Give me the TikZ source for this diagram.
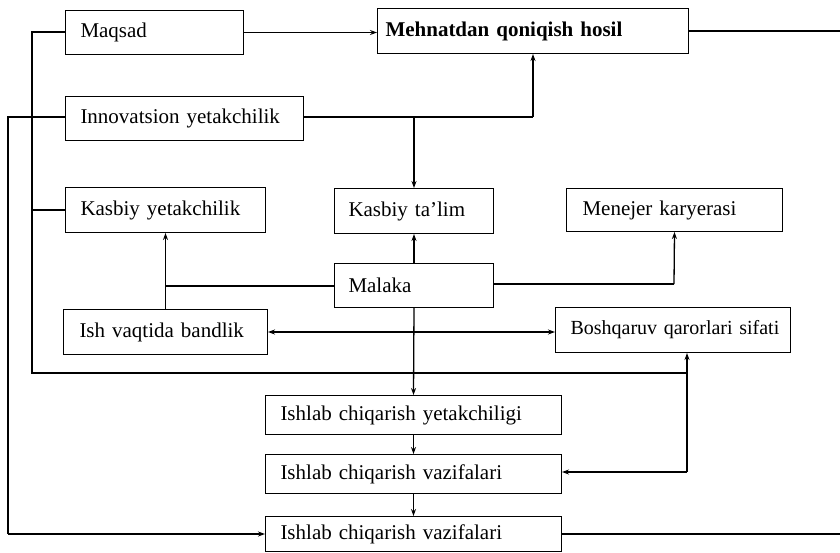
\documentclass[tikz,border=0pt]{standalone}
\usepackage{fontspec}
\setmainfont{Liberation Serif}
\usetikzlibrary{arrows.meta}
\begin{document}
\begin{tikzpicture}[x=1pt,y=1pt,
  box/.style={draw, line width=1pt, anchor=north west, inner xsep=0pt, inner ysep=0pt, align=left, font=\fontsize{21}{25}\selectfont},
  conn/.style={line width=1.3pt},
  arr/.style={line width=1.3pt, -{Stealth[length=7pt,width=5pt]}},
  darr/.style={line width=1.3pt, {Stealth[length=7pt,width=5pt]}-{Stealth[length=7pt,width=5pt]}}]
\useasboundingbox (0,0) rectangle (840,-552);
\node[box, text width=178pt, minimum height=44pt] (maq) at (65,-10) {\hspace*{15pt}Maqsad};
\node[box, text width=311pt, minimum height=45pt, font=\fontsize{21}{25}\selectfont\bfseries] (meh) at (377,-8) {\hspace*{8pt}Mehnatdan qoniqish hosil};
\node[box, text width=238pt, minimum height=44pt] (inn) at (65,-96) {\hspace*{15pt}Innovatsion yetakchilik};
\node[box, text width=200pt, minimum height=45pt] (ky) at (65,-187) {\hspace*{15pt}Kasbiy yetakchilik};
\node[box, text width=159pt, minimum height=45pt] (kt) at (334,-188) {\hspace*{14pt}Kasbiy ta'lim};
\node[box, text width=216pt, minimum height=43pt] (mk) at (566,-188) {\hspace*{16pt}Menejer karyerasi};
\node[box, text width=159pt, minimum height=44pt] (mal) at (334,-263) {\hspace*{14pt}Malaka};
\node[box, text width=204pt, minimum height=45pt] (ish) at (63,-309) {\hspace*{16pt}Ish vaqtida bandlik};
\node[box, text width=235pt, minimum height=45pt, font=\fontsize{20}{24}\selectfont] (bq) at (555,-307) {\hspace*{15pt}\mbox{Boshqaruv qarorlari sifati}};
\node[box, text width=296pt, minimum height=39pt] (iy) at (265,-395) {\hspace*{15pt}Ishlab chiqarish yetakchiligi};
\node[box, text width=296pt, minimum height=39pt] (v1) at (265,-454) {\hspace*{15pt}Ishlab chiqarish vazifalari};
\node[box, text width=296pt, minimum height=35pt] (v2) at (265,-516) {\hspace*{15pt}Ishlab chiqarish vazifalari};
\coordinate (mehout) at (840,-31);
\coordinate (v2out) at (840,-534);
\coordinate (ia) at (533,-117);
\coordinate (lx) at (32,-32);
\coordinate (lb) at (32,-373);
\coordinate (rb) at (687,-373);
\coordinate (rv) at (687,-472);
\coordinate (ox) at (8,-117);
\coordinate (ob) at (8,-534);
\coordinate (mkl) at (165,-286);
\coordinate (mrl) at (674,-284);
% connectors
\draw[arr] (maq.east) -- (maq.east -| meh.west);
\draw[conn] (meh.east |- mehout) -- (mehout);
\draw[conn] (inn.east |- ia) -- (ia);
\draw[arr] (ia) -- (ia |- meh.south);
\draw[arr] (kt.north |- ia) -- (kt.north);
\draw[conn] (maq.west |- lx) -- (lx) -- (lb) -- (rb);
\draw[conn] (lx |- ky.west) -- (ky.west);
\draw[conn] (inn.west |- ox) -- (ox) -- (ob);
\draw[arr] (ob) -- (ob -| v2.west);
\draw[arr] (mal.north) -- (kt.south);
\draw[conn] (mal.west |- mkl) -- (mkl);
\draw[arr] (ish.north) -- (ky.south);
\draw[conn] (mal.east |- mrl) -- (mrl);
\draw[arr] (mrl) -- (mk.south);
\draw[darr] (ish.east) -- (ish.east -| bq.west);
\draw[arr] (mal.south) -- (iy.north);
\draw[arr] (iy.south) -- (v1.north);
\draw[arr] (v1.south) -- (v2.north);
\draw[arr] (rv) -- (rv |- bq.south);
\draw[arr] (rv) -- (rv -| v1.east);
\draw[conn] (v2.east |- v2out) -- (v2out);
\end{tikzpicture}
\end{document}
